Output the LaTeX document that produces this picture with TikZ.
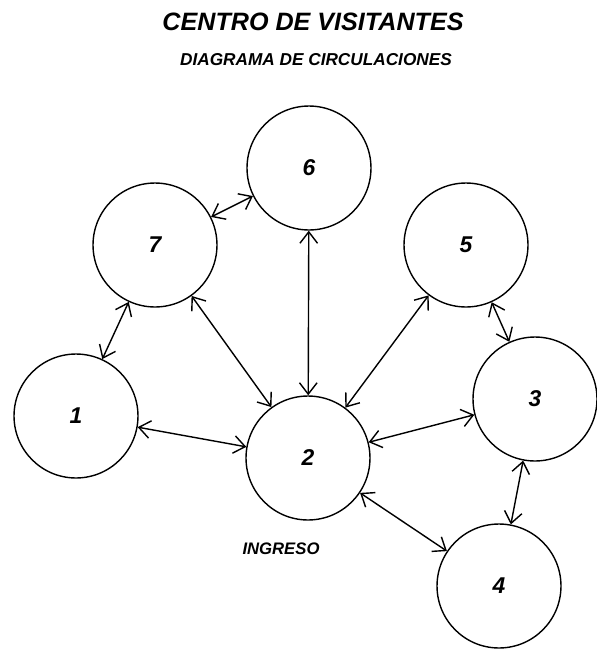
\documentclass[tikz,border=0pt]{standalone}
\usepackage{fontspec}
\setmainfont{Liberation Sans}
\usetikzlibrary{arrows.meta}

\begin{document}
\begin{tikzpicture}[x=0.02cm,y=-0.02cm,
  sala/.style={circle,draw,line width=0.8pt,minimum size=2.48cm,inner sep=0pt,
    font=\bfseries\itshape\fontsize{13}{13}\selectfont},
  flujo/.style={line width=0.8pt,{Straight Barb[length=6.5pt,width=10pt]}-{Straight Barb[length=6.5pt,width=10pt]}}]
\useasboundingbox (0,0) rectangle (596,653);

\node[font=\bfseries\itshape\fontsize{14.3}{14.3}\selectfont] (titulo) at (313,22) {CENTRO DE VISITANTES};
\node[font=\bfseries\itshape\fontsize{9.8}{9.8}\selectfont] (subtitulo) at (316,60) {DIAGRAMA DE CIRCULACIONES};

\node[sala] (s1) at (76,416) {1};
\node[sala] (s2) at (308,458) {2};
\node[sala] (s3) at (535,399) {3};
\node[sala] (s4) at (499,586) {4};
\node[sala] (s5) at (466,245) {5};
\node[sala] (s6) at (309,168) {6};
\node[sala] (s7) at (155,245) {7};

\node[font=\bfseries\itshape\fontsize{9.5}{9.5}\selectfont] (ingreso) at (281,549) {INGRESO};

% circulaciones
\draw[flujo] (s7) -- (s6);
\draw[flujo] (s7) -- (s1);
\draw[flujo] (s7) -- (s2);
\draw[flujo] (s6) -- (s2);
\draw[flujo] (s5) -- (s2);
\draw[flujo] (s5) -- (s3);
\draw[flujo] (s1) -- (s2);
\draw[flujo] (s2) -- (s3);
\draw[flujo] (s2) -- (s4);
\draw[flujo] (s3) -- (s4);
\end{tikzpicture}
\end{document}
